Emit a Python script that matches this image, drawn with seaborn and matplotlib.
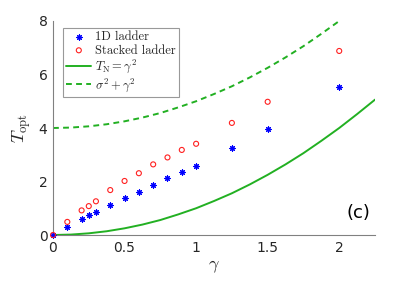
import matplotlib
matplotlib.use("Agg")
import matplotlib.pyplot as plt
import seaborn as sns
import pandas as pd

# simulated optimal temperature
gamma_pts = [0, 0.1, 0.2, 0.25, 0.3, 0.4, 0.5, 0.6, 0.7, 0.8, 0.9, 1.0, 1.25, 1.5, 2.0]
t_1d = [0, 0.30, 0.60, 0.74, 0.86, 1.13, 1.38, 1.62, 1.87, 2.12, 2.37, 2.59, 3.24, 3.97, 5.54]
t_stacked = [0, 0.49, 0.92, 1.08, 1.26, 1.68, 2.02, 2.31, 2.64, 2.90, 3.18, 3.41, 4.19, 4.98, 6.88]

# theory curves (sampled from the plot)
gamma_line = [0, 0.125, 0.25, 0.375, 0.5, 0.625, 0.75, 0.875, 1.0, 1.125, 1.25,
              1.375, 1.5, 1.625, 1.75, 1.875, 2.0, 2.125, 2.25]
t_neel = [0, 0.016, 0.063, 0.14, 0.25, 0.39, 0.56, 0.77, 1.0, 1.27, 1.56,
          1.89, 2.25, 2.64, 3.06, 3.52, 4.0, 4.52, 5.06]
t_sum = [4.0, 4.016, 4.063, 4.14, 4.25, 4.39, 4.56, 4.77, 5.0, 5.27, 5.56,
         5.89, 6.25, 6.64, 7.06, 7.52, 8.0]

sns.set_style("white")
plt.rcParams["mathtext.fontset"] = "cm"

fig = plt.figure(figsize=(4.15, 2.83), dpi=100)
ax = fig.add_axes([0.1277, 0.1696, 0.7759, 0.7562])

green = "#22b022"
pts = pd.DataFrame({"g": gamma_pts, "a": t_1d, "b": t_stacked})

sns.scatterplot(data=pts, x="g", y="a", ax=ax, marker=(8, 2, 0), s=16,
                color="#0000ff", linewidth=0.8, label="1D ladder", zorder=3,
                clip_on=False)
sns.scatterplot(data=pts, x="g", y="b", ax=ax, marker="o", s=13,
                facecolor="none", edgecolor="#ff2020", linewidth=0.8,
                label="Stacked ladder", zorder=3, clip_on=False)
sns.lineplot(x=gamma_line, y=t_neel, ax=ax, color=green, lw=1.4,
             label=r"$T_{\rm N}=\gamma^2$")
sns.lineplot(x=gamma_line[:len(t_sum)], y=t_sum, ax=ax, color=green, lw=1.4,
             ls=(0, (3, 2.2)), label=r"$\sigma^2+\gamma^2$")

ax.set_xlim(0, 2.25)
ax.set_ylim(0, 8)
ax.set_xticks([0, 0.5, 1, 1.5, 2])
ax.set_xticklabels(["0", "0.5", "1", "1.5", "2"])
ax.set_yticks([0, 2, 4, 6, 8])
ax.set_xlabel(r"$\gamma$", fontsize=13, labelpad=2)
ax.set_ylabel(r"$T_{\rm opt}$", fontsize=13, labelpad=4)

sns.despine(ax=ax)
for s in ["left", "bottom"]:
    ax.spines[s].set_color("#808080")
    ax.spines[s].set_linewidth(0.8)
ax.tick_params(direction="in", length=3, color="#808080", labelsize=10,
               labelcolor="#262626", pad=4)

leg = ax.legend(loc="upper left", bbox_to_anchor=(0.02, 0.985), fontsize=9,
                frameon=True, fancybox=False, edgecolor="#808080",
                borderpad=0.25, labelspacing=0.1, handlelength=2.0,
                handletextpad=0.3, borderaxespad=0.3)
leg.get_frame().set_linewidth(0.8)
for t in leg.get_texts()[:2]:
    t.set_family("serif")
    t.set_fontname("cmr10")

ax.text(0.985, 0.06, "(c)", transform=ax.transAxes, ha="right", va="bottom",
        fontsize=13, color="black")

fig.savefig("out.png", dpi=100)
plt.close(fig)
